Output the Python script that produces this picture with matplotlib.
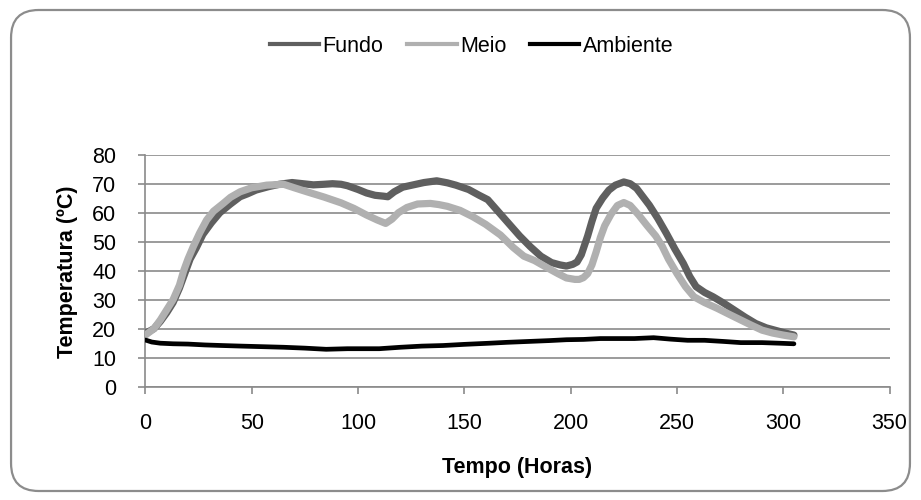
import matplotlib.pyplot as plt
from matplotlib.lines import Line2D
from matplotlib.patches import FancyBboxPatch

plt.rcParams['font.family'] = ['Liberation Sans', 'DejaVu Sans']

# Fundo
fundo_x = [0, 4, 7, 10, 13, 16, 19, 21, 24, 27, 31, 35, 40, 44.5, 48, 52, 58, 63, 69, 74, 79,
           84, 88, 92, 95, 100, 104, 108, 112, 114, 117, 121, 126, 131, 137, 142, 146,
           152, 157, 161, 164, 170, 176, 181, 186, 191, 195, 198, 201, 203, 205, 208,
           210, 212, 215, 218, 221, 225, 228, 231, 234, 237, 241, 245, 249, 253, 256,
           259, 263, 267, 272, 277, 282, 287, 292, 297, 301, 305]
fundo_y = [18.4, 20, 22.5, 25.5, 29, 34, 40, 44, 48, 52.5, 56.5, 60, 63, 65.5, 66.5, 67.8,
           69, 69.8, 70.4, 70, 69.6,
           69.8, 70, 69.8, 69.3, 68, 66.8, 66, 65.7, 65.5, 67.2, 68.8, 69.6, 70.4, 71, 70.3,
           69.5,
           68, 66, 64.5, 62, 57, 52, 48.3, 45, 42.8, 42, 41.6, 42.2, 43, 45.5, 52,
           57, 61.5, 65, 67.8, 69.5, 70.6, 70, 68.4, 65.5, 62.6, 58, 52.9, 47.5, 42.5, 38,
           34.5, 32.5, 31, 28.8, 26.4, 24, 21.8, 20.3, 19.3, 18.5, 17.8]

# Meio
meio_x = [0, 4, 7, 10, 13, 16, 18, 20, 22.5, 25.5, 28.8, 32, 36.6, 40, 44.5, 50, 57, 65,
          70, 76, 84, 92, 98, 104, 109, 113, 116, 119, 123, 128, 134, 138, 142, 148, 154,
          160, 167, 173, 178, 183, 189, 194,
          198, 202, 204, 206, 208, 210, 212, 214, 216, 219, 222, 225, 228, 232, 236, 240,
          243, 246, 250, 254, 258, 263, 269, 275, 280, 285, 290, 295, 300, 305]
meio_y = [17.8, 20, 23, 26.5, 30, 35, 40, 44, 48.3, 53, 57.5, 60.5, 63.2, 65.3, 67.2, 68.6,
          69.5, 69.8,
          68.6, 67.2, 65.4, 63.4, 61.5, 59.2, 57.5, 56.3, 57.8, 60, 61.8, 63, 63.2, 62.8,
          62.2, 60.8, 58.6, 56, 52.3, 48, 45, 43.5, 41, 39,
          37.5, 37, 37, 37.6, 39, 42, 46.5, 51.5, 55.5, 59.5, 62.5, 63.5, 62.5, 59.2, 55.5,
          52, 48.5, 44, 39, 34.5, 31, 29, 27, 24.8, 23, 21.2, 19.5, 18.5, 17.8, 17.2]

# Ambiente
amb_x = [0, 3, 7, 13, 20, 28, 36, 45, 55, 65, 75, 85, 95, 110, 120, 130, 140, 150, 162,
         170, 180, 190, 198, 206, 214, 222, 230, 239, 247, 255, 263, 272, 280, 290, 298, 305]
amb_y = [16.1, 15.4, 15, 14.8, 14.7, 14.4, 14.2, 14, 13.8, 13.6, 13.3, 12.9, 13.1, 13.1,
         13.6, 14, 14.2, 14.6, 15, 15.3, 15.6, 15.9, 16.2, 16.3, 16.6, 16.6, 16.6, 16.9,
         16.4, 16, 16, 15.6, 15.2, 15.2, 15, 14.8]

series = ['Fundo', 'Meio', 'Ambiente']
colors = ['#5f5f5f', '#b0b0b0', '#000000']
x_ticks = [0, 50, 100, 150, 200, 250, 300, 350]
y_ticks = [0, 10, 20, 30, 40, 50, 60, 70, 80]

fig = plt.figure(figsize=(9.21, 5.0), dpi=100)
frame = FancyBboxPatch((0.012, 0.018), 0.976, 0.962,
                       boxstyle='round,pad=0,rounding_size=0.03',
                       transform=fig.transFigure, facecolor='white',
                       edgecolor='#8c8c8c', linewidth=1.6,
                       mutation_aspect=921 / 500, zorder=-10)
fig.patches.append(frame)
ax = fig.add_axes([0.1579, 0.2266, 0.808, 0.464])
ax.set_facecolor('none')

ax.plot(fundo_x, fundo_y, color=colors[0], lw=5.2, solid_capstyle='round',
        solid_joinstyle='round', zorder=3)
ax.plot(meio_x, meio_y, color=colors[1], lw=5.2, solid_capstyle='round',
        solid_joinstyle='round', zorder=4)
ax.plot(amb_x, amb_y, color=colors[2], lw=3.4, solid_capstyle='round',
        solid_joinstyle='round', zorder=5)

ax.set_xlim(0, 350)
ax.set_ylim(0, 80)
ax.set_xticks(x_ticks)
ax.set_yticks(y_ticks)
ax.grid(axis='y', color='#8a8a8a', lw=1.2)
ax.set_axisbelow(True)
for s in ['top', 'right']:
    ax.spines[s].set_visible(False)
for s in ['left', 'bottom']:
    ax.spines[s].set_color('#8a8a8a')
    ax.spines[s].set_linewidth(1.2)
ax.tick_params(axis='both', colors='#8a8a8a', labelcolor='black', labelsize=15.5,
               length=5, width=1.2)
ax.tick_params(axis='y', pad=16)
ax.tick_params(axis='x', pad=14)

fig.text(0.073, 0.457, 'Temperatura (ºC)', rotation=90, ha='center', va='center',
         fontsize=15.5, fontweight='bold')
fig.text(0.561, 0.066, 'Tempo (Horas)', ha='center', va='center',
         fontsize=15.5, fontweight='bold')

handles = [Line2D([], [], color=c, lw=3) for c in colors]
fig.legend(handles, series, loc='center', bbox_to_anchor=(0.512, 0.908), ncol=3,
           frameon=False, fontsize=15.5, handlelength=2.3, handletextpad=0.15,
           columnspacing=1.1)

fig.savefig('out.png', dpi=100)
